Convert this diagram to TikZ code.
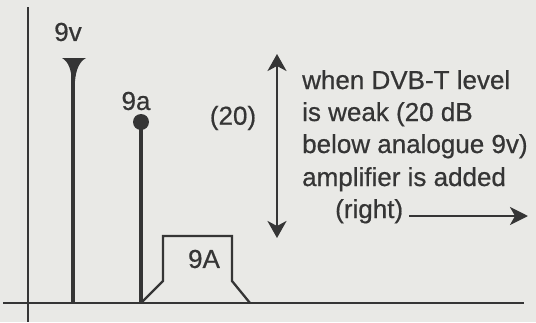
\documentclass[tikz,border=0pt]{standalone}
\usepackage{fontspec}
\setmainfont{Liberation Sans}[FakeBold=0.6]
\usetikzlibrary{arrows.meta}
\definecolor{ink}{HTML}{353535}
\definecolor{paper}{HTML}{E9E9E6}
\tikzset{
  axis/.style={draw=ink, line width=2.5pt},
  stem/.style={draw=ink, line width=4.5pt},
  band/.style={draw=ink, line width=2.3pt, line join=miter},
  lbl/.style={text=ink, inner sep=0pt, font=\fontsize{26}{30}\selectfont},
  dblarrow/.style={draw=ink, line width=2.8pt, {Stealth[length=17pt,width=19pt,inset=5pt]}-{Stealth[length=17pt,width=19pt,inset=5pt]}},
  rarrow/.style={draw=ink, line width=2.6pt, -{Stealth[length=18pt,width=18pt,inset=5pt]}}
}
\begin{document}
\begin{tikzpicture}[x=1pt,y=-1pt]
\useasboundingbox (0,0) rectangle (536,322);
\fill[paper] (0,0) rectangle (536,322);
% axes
\coordinate (ytop) at (28,7);
\coordinate (ybot) at (28,322);
\coordinate (xl) at (3,303);
\coordinate (xr) at (524,303);
\draw[axis] (ytop) -- (ybot);
\draw[axis] (xl) -- (xr);
% 9v
\coordinate (v0) at (73,303);
\coordinate (v1) at (73,72);
\draw[stem] (v0) -- (v1);
\fill[ink] (62,58) -- (86,58) .. controls (79,62) and (76,70) .. (75,81) -- (72,81) .. controls (71,70) and (69,62) .. (62,58) -- cycle;
\node[lbl] (l9v) at (68,32) {9v};
% 9a
\coordinate (a0) at (141,303);
\node[circle, fill=ink, minimum size=16pt, inner sep=0pt] (adot) at (141,122) {};
\draw[stem] (a0) -- (adot.center);
\node[lbl] (l9a) at (136,101) {9a};
% 9A band
\coordinate (b1) at (163,281);
\coordinate (b2) at (163,236);
\coordinate (b3) at (232,236);
\coordinate (b4) at (232,281);
\coordinate (b5) at (250,303);
\draw[band] (a0) -- (b1) -- (b2) -- (b3) -- (b4) -- (b5);
\node[lbl] (l9A) at (204,259) {9A};
% (20) and double arrow
\node[lbl] (l20) at (233,118) {(20)};
\coordinate (d1) at (277,54);
\coordinate (d2) at (277,238);
\draw[dblarrow] (d1) -- (d2);
% text
\node[lbl, anchor=base west] (t1) at (302,89) {when DVB-T level};
\node[lbl, anchor=base west] (t2) at (302,121) {is weak (20 dB};
\node[lbl, anchor=base west] (t3) at (302,153) {below analogue 9v)};
\node[lbl, anchor=base west] (t4) at (302,186) {amplifier is added};
\node[lbl, anchor=base west] (t5) at (335,218) {(right)};
\coordinate (r2) at (528,216);
\draw[rarrow] ([xshift=6pt]t5.east |- r2) -- (r2);
\end{tikzpicture}
\end{document}
